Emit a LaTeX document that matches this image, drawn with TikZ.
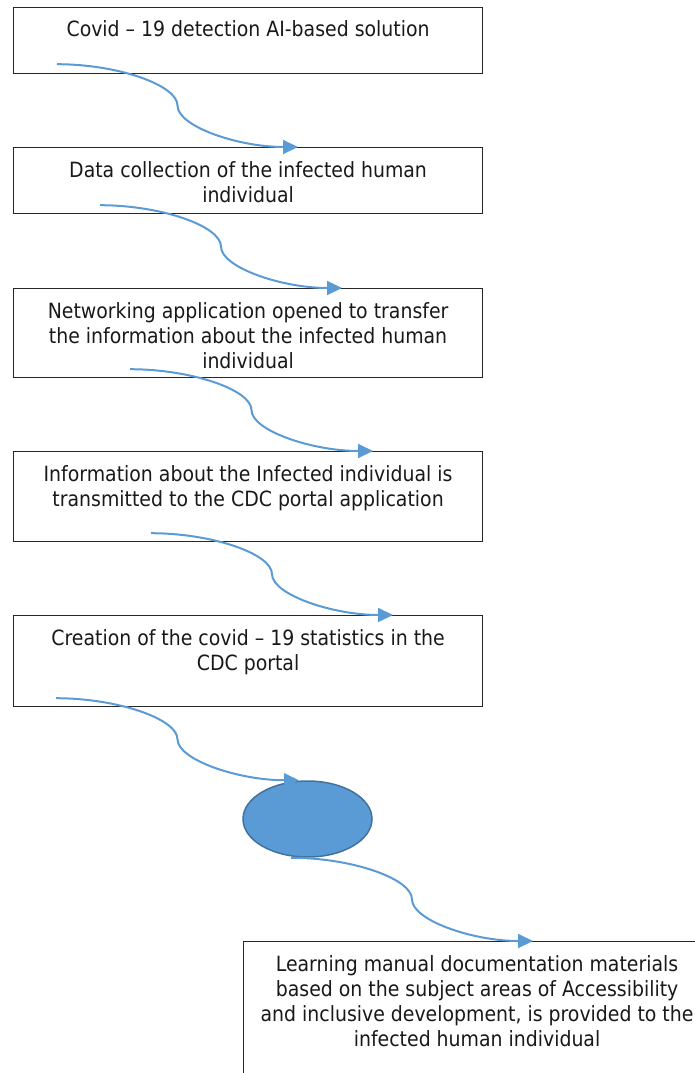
\documentclass[tikz,border=0pt]{standalone}
\usepackage{fontspec}
\setmainfont{DejaVu Sans Condensed}
\usetikzlibrary{arrows.meta,calc,shapes.geometric}
\definecolor{arrowblue}{HTML}{5B9BD5}
\definecolor{ellborder}{HTML}{41719C}
\tikzset{
  boxst/.style={draw=black!85, line width=1.2pt, anchor=north west, inner sep=0pt, minimum width=469pt},
  txt/.style={font=\fontsize{21}{25}\selectfont, align=center, anchor=base, inner sep=0pt, text=black!90},
  conn/.style={draw=arrowblue, line width=2pt, -{Triangle[length=15pt,width=14pt]}},
}
\newcommand{\sconn}[2]{%
  \path ($(#1)!0.5!(#2)$) coordinate (#1m)
        ($(#1)!0.25!(#2)$) coordinate (#1q)
        ($(#1)!0.75!(#2)$) coordinate (#1r);
  \draw[conn] (#1) .. controls (#1q |- #1) and (#1m |- #1q) .. (#1m)
                   .. controls (#1m |- #1r) and (#1r |- #2) .. (#2);}
\begin{document}
\begin{tikzpicture}[x=1pt,y=-1pt]
\useasboundingbox (0,0) rectangle (695,1073);
\clip (0,0) rectangle (695,1073);

% boxes
\node[boxst, minimum height=66] (b1) at (13,7) {};
\node[boxst, minimum height=66] (b2) at (13,147) {};
\node[boxst, minimum height=89] (b3) at (13,288) {};
\node[boxst, minimum height=90] (b4) at (13,451) {};
\node[boxst, minimum height=91] (b5) at (13,615) {};
\node[boxst, minimum height=150, minimum width=467] (b6) at (243,941) {};
\node[ellipse, draw=ellborder, fill=arrowblue, line width=1.5pt,
      minimum width=129, minimum height=76, inner sep=0pt] (el) at (307.5,819) {};

% texts (anchor = baseline of the last line)
\node[txt] (t1) at ($(b1.north)+(0,30)$) {Covid -- 19 detection AI-based solution};
\node[txt] (t2) at ($(b2.north)+(0,55)$) {Data collection of the infected human\\individual};
\node[txt] (t3) at ($(b3.north)+(0,80)$) {Networking application opened to transfer\\the information about the infected human\\individual};
\node[txt] (t4) at ($(b4.north)+(0,55)$) {Information about the Infected individual is\\transmitted to the CDC portal application};
\node[txt] (t5) at ($(b5.north)+(0,55)$) {Creation of the covid -- 19 statistics in the\\CDC portal};
\node[txt] (t6) at ($(b6.north)+(0,105)$) {Learning manual documentation materials\\based on the subject areas of Accessibility\\and inclusive development, is provided to the\\infected human individual};

% connector end points
\coordinate (s1) at ($(b1.south west)+(44,-10)$);
\coordinate (e1) at ($(b2.north west)+(285,0)$);
\coordinate (s2) at ($(b2.south west)+(87,-9)$);
\coordinate (e2) at ($(b3.north west)+(329,0)$);
\coordinate (s3) at ($(b3.south west)+(117,-9)$);
\coordinate (e3) at ($(b4.north west)+(360,0)$);
\coordinate (s4) at ($(b4.south west)+(138,-9)$);
\coordinate (e4) at ($(b5.north west)+(380,0)$);
\coordinate (s5) at ($(b5.south west)+(43,-9)$);
\coordinate (e5) at ($(el.north)+(-8.5,0)$);
\coordinate (s6) at ($(el.south)+(-16.5,0)$);
\coordinate (e6) at ($(b6.north west)+(290,0)$);

\sconn{s1}{e1}
\sconn{s2}{e2}
\sconn{s3}{e3}
\sconn{s4}{e4}
\sconn{s5}{e5}
\sconn{s6}{e6}
\end{tikzpicture}
\end{document}
